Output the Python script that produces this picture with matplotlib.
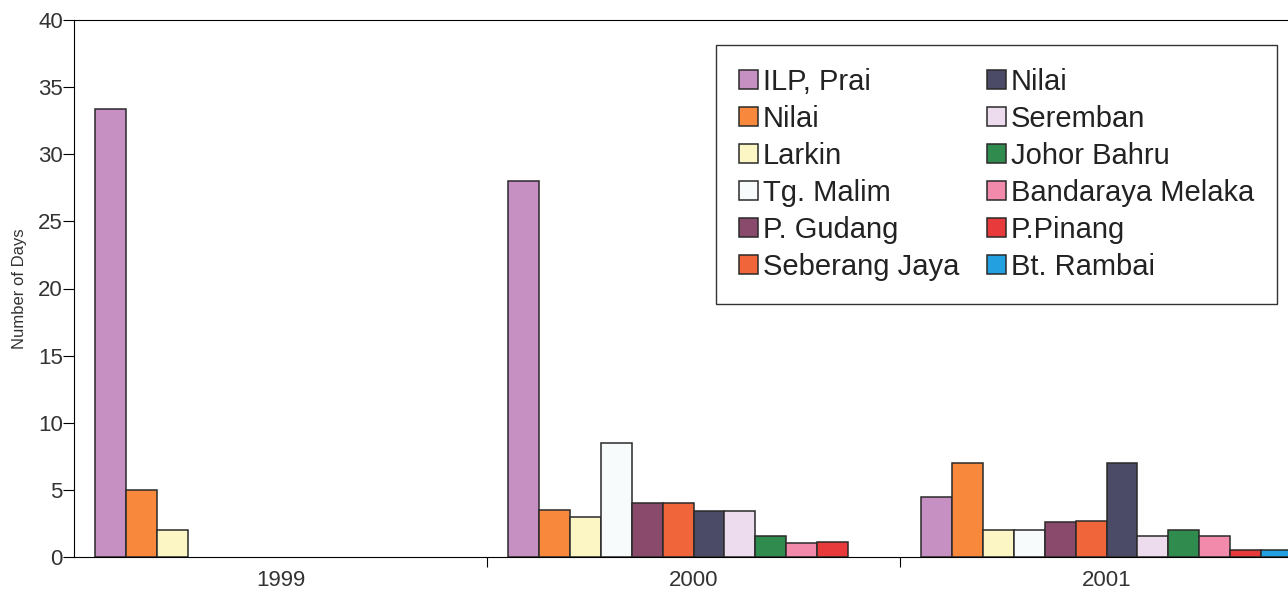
import numpy as np
import matplotlib
matplotlib.use("Agg")
import matplotlib.pyplot as plt
from matplotlib.ticker import FixedLocator

plt.rcParams['font.family'] = ['Liberation Sans', 'DejaVu Sans']

years = ["1999", "2000", "2001"]
stations = ["ILP, Prai", "Nilai", "Larkin", "Tg. Malim", "P. Gudang", "Seberang Jaya",
            "Nilai", "Seremban", "Johor Bahru", "Bandaraya Melaka", "P.Pinang", "Bt. Rambai"]
colors = ["#c690c2", "#f8893c", "#fbf6c4", "#f8fbfc", "#8a4a6c", "#f0653a",
          "#4b4b68", "#ecdcee", "#2f8c4e", "#f28bab", "#e8393b", "#22a0e0"]

# number of days per station, per year (1999, 2000, 2001)
ilp_prai = [33.4, 28.0, 4.5]
nilai_a = [5.0, 3.5, 7.0]
larkin = [2.0, 3.0, 2.0]
tg_malim = [0, 8.5, 2.0]
p_gudang = [0, 4.0, 2.6]
seberang_jaya = [0, 4.05, 2.65]
nilai_b = [0, 3.45, 7.0]
seremban = [0, 3.4, 1.55]
johor_bahru = [0, 1.6, 2.0]
melaka = [0, 1.05, 1.6]
p_pinang = [0, 1.1, 0.5]
bt_rambai = [0, 0, 0.5]

series = [ilp_prai, nilai_a, larkin, tg_malim, p_gudang, seberang_jaya,
          nilai_b, seremban, johor_bahru, melaka, p_pinang, bt_rambai]

fig = plt.figure(figsize=(12.88, 5.92), dpi=100)
ax = fig.add_axes([74/1288, 1-557/592, (1313-74)/1288, (557-20)/592])

x = np.arange(len(years))
w = 0.9 / len(series)
start = -0.45
for i, (vals, name, c) in enumerate(zip(series, stations, colors)):
    v = np.array(vals, dtype=float)
    v[v == 0] = np.nan  # no visible bar for zero days
    ax.bar(x + start + (i + 0.5) * w, v, width=w, color=c,
           edgecolor="#2a2a2a", linewidth=1.1, label=name)

ax.set_xlim(-0.5, 2.5)
ax.set_ylim(0, 40)
ax.set_yticks(np.arange(0, 41, 5))
ax.tick_params(axis='y', direction='out', length=8, width=0.8, labelsize=16,
               pad=0, labelcolor="#333333")

# boundary ticks between years, year labels at group centres
ax.xaxis.set_major_locator(FixedLocator([0.5, 1.5]))
ax.xaxis.set_major_formatter(plt.NullFormatter())
ax.tick_params(axis='x', which='major', direction='out', length=7, width=0.8)
ax.xaxis.set_minor_locator(FixedLocator(x))
ax.set_xticklabels(years, minor=True)
ax.tick_params(axis='x', which='minor', length=0, labelsize=16, pad=9,
               labelcolor="#333333")

ax.set_ylabel("Number of Days", fontsize=12, labelpad=8, color="#333333")
for s in ax.spines.values():
    s.set_linewidth(0.8)

leg = ax.legend(ncol=2, loc='upper left', bbox_to_anchor=(716/1288, 1-45/592),
                bbox_transform=fig.transFigure, fontsize=21, frameon=True,
                fancybox=False, edgecolor="black", handlelength=0.65,
                handleheight=0.65, handletextpad=0.17, labelspacing=0.31,
                columnspacing=0.95, borderpad=0.78, borderaxespad=0)
leg.get_frame().set_linewidth(1.0)
for t in leg.get_texts():
    t.set_color("#222222")

fig.savefig("out.png", dpi=100)
